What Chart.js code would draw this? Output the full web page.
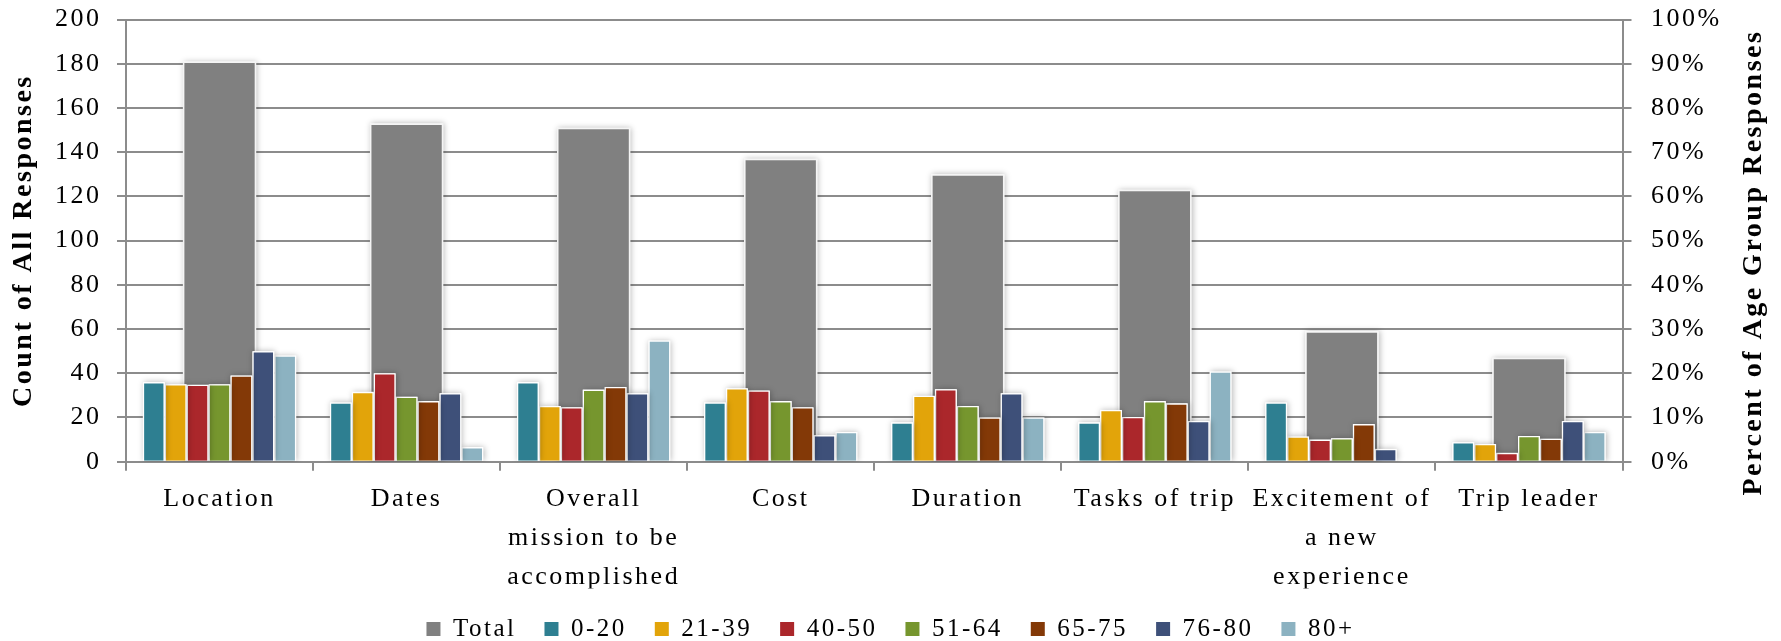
<!DOCTYPE html>
<html>
<head>
<meta charset="utf-8">
<script src="https://cdn.jsdelivr.net/npm/chart.js@4/dist/chart.umd.min.js"></script>
<style>
  html, body { margin: 0; padding: 0; background: #ffffff; }
  #wrap { position: relative; width: 1781px; height: 641px; }
</style>
</head>
<body>
<div id="wrap"><canvas id="chart"></canvas></div>
<script>
// Categories (multi-line labels are arrays of lines)
const categories = [
  'Location',
  'Dates',
  ['Overall', 'mission to be', 'accomplished'],
  'Cost',
  'Duration',
  'Tasks of trip',
  ['Excitement of', 'a new', 'experience'],
  'Trip leader'
];

// Count of all responses (left axis)
const totalCounts = [181, 153, 151, 137, 130, 123, 59, 47];

// Percent of each age group's responses (right axis)
const ageGroups = ['0-20', '21-39', '40-50', '51-64', '65-75', '76-80', '80+'];
const pct0to20   = [18.0, 13.4, 18.0, 13.4, 8.9, 8.9, 13.4, 4.4];
const pct21to39  = [17.5, 15.8, 12.6, 16.6, 14.9, 11.7, 5.7, 4.0];
const pct40to50  = [17.4, 20.0, 12.3, 16.1, 16.4, 10.1, 5.0, 2.0];
const pct51to64  = [17.5, 14.7, 16.3, 13.7, 12.6, 13.7, 5.3, 5.8];
const pct65to75  = [19.5, 13.7, 16.9, 12.3, 10.0, 13.2, 8.5, 5.2];
const pct76to80  = [25.0, 15.5, 15.5, 6.0, 15.5, 9.2, 2.9, 9.2];
const pct80plus  = [24.0, 3.3, 27.4, 6.7, 10.0, 20.4, 0, 6.7];
const agePercents = [pct0to20, pct21to39, pct40to50, pct51to64, pct65to75, pct76to80, pct80plus];

// Tick values
const countTicks = [0, 20, 40, 60, 80, 100, 120, 140, 160, 180, 200];
const percentTicks = [0, 10, 20, 30, 40, 50, 60, 70, 80, 90, 100];

const totalColor = '#808080';
const ageColors = ['#2E7F91', '#E2A40A', '#AB272B', '#76962E', '#833907', '#3E5079', '#8CB2C1'];

const FONT = "'Liberation Serif', 'Times New Roman', serif";
const LETTER_SPACING = '2.5px';
const gridColor = '#8c8c8c';

// Wide-set text for everything drawn on the canvas
const wideText = {
  id: 'wideText',
  beforeUpdate(chart) { chart.ctx.letterSpacing = LETTER_SPACING; },
  beforeLayout(chart) { chart.ctx.letterSpacing = LETTER_SPACING; },
  beforeDraw(chart) { chart.ctx.letterSpacing = LETTER_SPACING; }
};

// Soft shadow behind each bar
const barShadow = {
  id: 'barShadow',
  beforeDatasetDraw(chart, args) {
    const ctx = chart.ctx;
    const area = chart.chartArea;
    ctx.save();
    ctx.beginPath();
    ctx.rect(area.left, area.top - 10, area.right - area.left, area.bottom - area.top + 10);
    ctx.clip();
    ctx.shadowColor = 'rgba(0,0,0,0.28)';
    ctx.shadowBlur = 6;
    ctx.shadowOffsetX = 1;
    ctx.shadowOffsetY = 0;
    ctx.fillStyle = '#ffffff';
    args.meta.data.forEach(bar => {
      const p = bar.getProps(['x', 'y', 'base', 'width'], true);
      const h = Math.abs(p.base - p.y);
      if (h < 0.5) return;
      ctx.fillRect(p.x - p.width / 2, Math.min(p.y, p.base), p.width, h);
    });
    ctx.restore();
  }
};

// Right-hand axis title, reading bottom to top
const rightTitle = {
  id: 'rightTitle',
  afterDraw(chart) {
    const ctx = chart.ctx;
    const area = chart.chartArea;
    ctx.save();
    ctx.letterSpacing = LETTER_SPACING;
    ctx.translate(1754, (area.top + area.bottom) / 2 + 22);
    ctx.rotate(-Math.PI / 2);
    ctx.font = 'bold 28px ' + FONT;
    ctx.fillStyle = '#000000';
    ctx.textAlign = 'center';
    ctx.textBaseline = 'middle';
    ctx.fillText('Percent of Age Group Responses', 0, 0);
    ctx.restore();
  }
};

// Total is overlaid behind the age-group bars (not part of the group)
const datasets = [{
  label: 'Total',
  data: totalCounts,
  backgroundColor: totalColor,
  borderColor: '#f4f4f4',
  borderWidth: 1.5,
  yAxisID: 'y',
  grouped: false,
  categoryPercentage: 1,
  barPercentage: 0.392,
  order: 1
}];
ageGroups.forEach((name, i) => {
  datasets.push({
    label: name,
    data: agePercents[i],
    backgroundColor: ageColors[i],
    borderColor: '#ffffff',
    borderWidth: 1.3,
    yAxisID: 'yPct',
    categoryPercentage: 0.82,
    barPercentage: 1,
    order: 0
  });
});

Chart.defaults.font.family = FONT;
Chart.defaults.color = '#000000';

new Chart(document.getElementById('chart'), {
  type: 'bar',
  data: { labels: categories, datasets },
  plugins: [wideText, barShadow, rightTitle],
  options: {
    responsive: true,
    maintainAspectRatio: false,
    animation: false,
    events: [],
    layout: { padding: { top: 19.5, left: 0, right: 0, bottom: -10.5 } },
    plugins: {
      tooltip: { enabled: false },
      legend: {
        position: 'bottom',
        labels: {
          boxWidth: 14,
          boxHeight: 14,
          padding: 28,
          color: '#000000',
          font: { size: 25, family: FONT },
          sort: (a, b) => a.datasetIndex - b.datasetIndex,
          generateLabels(chart) {
            const items = Chart.defaults.plugins.legend.labels.generateLabels(chart);
            items.forEach(it => { it.lineWidth = 0; it.strokeStyle = it.fillStyle; });
            return items;
          }
        }
      }
    },
    scales: {
      x: {
        type: 'category',
        position: 'bottom',
        offset: true,
        grid: { offset: true, drawOnChartArea: false, drawTicks: true, tickLength: 9, color: gridColor, lineWidth: 2 },
        border: { display: true, color: gridColor, width: 2 },
        ticks: { font: { size: 26, family: FONT, lineHeight: 1.5 }, color: '#000000', padding: 9, maxRotation: 0, autoSkip: false },
        afterFit(scale) { scale.height = 126.8; }
      },
      y: {
        position: 'left',
        min: 0,
        max: 200,
        afterBuildTicks(scale) { scale.ticks = countTicks.map(v => ({ value: v })); },
        ticks: { font: { size: 26, family: FONT }, color: '#000000', padding: 15.5 },
        grid: { color: gridColor, lineWidth: 2, tickLength: 9, drawTicks: true },
        border: { display: true, color: gridColor, width: 2 },
        title: {
          display: true,
          text: 'Count of All Responses',
          color: '#000000',
          font: { size: 28, weight: 'bold', family: FONT },
          padding: { top: 7, bottom: 0 }
        },
        afterFit(scale) { scale.width = 126; scale.paddingTop = 0; scale.paddingBottom = 0; }
      },
      yPct: {
        position: 'right',
        min: 0,
        max: 100,
        afterBuildTicks(scale) { scale.ticks = percentTicks.map(v => ({ value: v })); },
        ticks: { font: { size: 26, family: FONT }, color: '#000000', padding: 19.5, callback: v => v + '%' },
        grid: { drawOnChartArea: false, color: gridColor, lineWidth: 2, tickLength: 9, drawTicks: true },
        border: { display: true, color: gridColor, width: 2 },
        afterFit(scale) { scale.width = 158.5; scale.paddingTop = 0; scale.paddingBottom = 0; }
      }
    }
  }
});
</script>
</body>
</html>
